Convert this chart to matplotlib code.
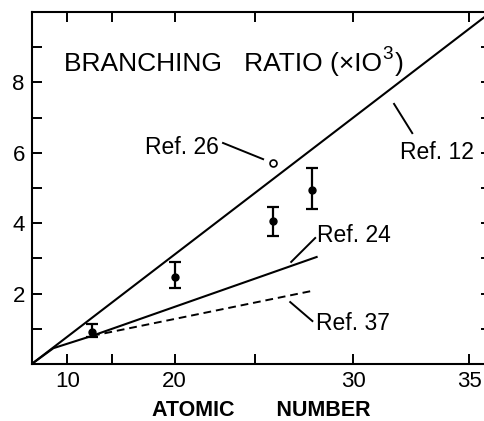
import numpy as np
import matplotlib
matplotlib.use("Agg")
import matplotlib.pyplot as plt
from matplotlib import font_manager
from matplotlib.transforms import offset_copy

# ábra adatai: rendszám (Z) és elágazási arány (x10^3)
ref12_z = [0.0, 35.87]
ref12_ratio = [0.0, 10.0]

ref24_z = [0.0, 7.8, 13.0, 28.3]
ref24_ratio = [0.0, 0.45, 0.80, 3.05]

ref37_z = [13.0, 28.05]
ref37_ratio = [0.80, 2.08]

meas_z = [13, 20, 26, 28]
meas_ratio = [0.92, 2.48, 4.06, 4.94]
meas_err_low = [0.14, 0.33, 0.41, 0.55]
meas_err_high = [0.22, 0.43, 0.39, 0.62]

ref26_z = [26]
ref26_ratio = [5.70]

x_ticks = [10, 15, 20, 25, 30, 35]
x_tick_labels = ["10", "", "20", "", "30", "35"]
y_ticks = [1, 2, 3, 4, 5, 6, 7, 8, 9]
y_tick_labels = ["", "2", "", "4", "", "6", "", "8", ""]

# feliratok: szöveg, szöveg helye, vezetővonal két vége (adatkoordinátában)
labels = [
    ("Ref. 26", (22.9, 6.16), "right", ((23.15, 6.28), (25.46, 5.82))),
    ("Ref. 12", (32.12, 6.02), "left", ((31.86, 7.39), (32.65, 6.56))),
    ("Ref. 24", (28.27, 3.64), "left", ((28.18, 3.58), (26.96, 2.90))),
    ("Ref. 37", (28.23, 1.16), "left", ((26.91, 1.76), (28.04, 1.22))),
]

# keskeny betűtípus a címhez, ha van; különben kisebb méret
font_names = {f.name for f in font_manager.fontManager.ttflist}
if "Liberation Sans Narrow" in font_names:
    title_family, title_size = ["Liberation Sans Narrow", "DejaVu Sans"], 21
else:
    title_family, title_size = ["Liberation Sans", "DejaVu Sans"], 19

fig = plt.figure(figsize=(4.85, 4.21), dpi=100)
ax = fig.add_axes([0.0654, 0.1354, 0.947, 0.836])

# az x tengely Z^2 szerint lineáris
ax.set_xscale("function", functions=(lambda z: z ** 2, lambda q: np.sqrt(np.clip(q, 0, None))))
ax.set_xlim(0, 35.87)
ax.set_ylim(0, 10)

line_kw = dict(color="black", lw=1.5, solid_capstyle="butt")
ax.plot(ref12_z, ref12_ratio, **line_kw)
ax.plot(ref24_z, ref24_ratio, **line_kw)
ax.plot(ref37_z, ref37_ratio, color="black", lw=1.4, dashes=(4, 2.5))

ax.errorbar(meas_z, meas_ratio, yerr=[meas_err_low, meas_err_high], fmt="o", color="black",
            ms=5, elinewidth=1.6, capsize=4, capthick=1.6)
ax.plot(ref26_z, ref26_ratio, "o", ms=5, mfc="white", mec="black", mew=1.2)

for text, pos, ha, (p0, p1) in labels:
    ax.plot([p0[0], p1[0]], [p0[1], p1[1]], color="black", lw=1.4)
    ax.text(pos[0], pos[1], text, ha=ha, va="center", fontsize=16.5,
            family=["Liberation Sans", "DejaVu Sans"])

# cím három darabban, hogy a kitevő nagyobb legyen
renderer = fig.canvas.get_renderer()
t1 = ax.text(0.070, 0.832, "BRANCHING   RATIO (\u00d7IO", transform=ax.transAxes,
             ha="left", va="baseline", fontsize=title_size, family=title_family)
w1 = t1.get_window_extent(renderer).width * 72 / fig.dpi
t2 = ax.text(0.070, 0.832, "3", transform=offset_copy(ax.transAxes, fig, x=w1 + 0.5, y=8.5, units="points"),
             ha="left", va="baseline", fontsize=title_size * 0.72, family=title_family)
w2 = t2.get_window_extent(renderer).width * 72 / fig.dpi
ax.text(0.070, 0.832, ")", transform=offset_copy(ax.transAxes, fig, x=w1 + w2 + 2, y=0, units="points"),
        ha="left", va="baseline", fontsize=title_size, family=title_family)

ax.set_xticks(x_ticks)
ax.set_xticklabels(x_tick_labels)
ax.set_yticks(y_ticks)
ax.set_yticklabels(y_tick_labels)
ax.xaxis.set_minor_locator(matplotlib.ticker.NullLocator())
ax.tick_params(direction="in", length=7, width=1.4, top=True, right=True, labelsize=16, pad=5)
for lab in ax.get_xticklabels() + ax.get_yticklabels():
    lab.set_family(["Liberation Sans", "DejaVu Sans"])
for sp in ax.spines.values():
    sp.set_linewidth(1.5)

ax.set_xlabel("ATOMIC       NUMBER", fontsize=15.5, fontweight="bold", labelpad=5.5,
              family=["Liberation Sans", "DejaVu Sans"])

fig.savefig("out.png", dpi=100)
